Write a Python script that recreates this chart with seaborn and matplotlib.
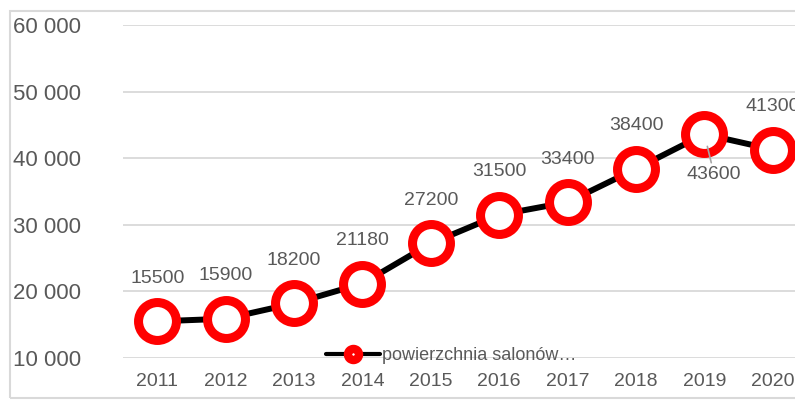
import matplotlib
matplotlib.use('Agg')
import matplotlib.pyplot as plt
import seaborn as sns
import pandas as pd
from matplotlib import font_manager
from matplotlib.lines import Line2D
from matplotlib.patches import Rectangle

years = [2011, 2012, 2013, 2014, 2015, 2016, 2017, 2018, 2019, 2020]
area = [15500, 15900, 18200, 21180, 27200, 31500, 33400, 38400, 43600, 41300]
y_ticks = [10000, 20000, 30000, 40000, 50000, 60000]
series_name = 'powierzchnia salonów…'

# waska czcionka jak w oryginale, jesli jest
names = {f.name for f in font_manager.fontManager.ttflist}
font = 'Liberation Sans Narrow' if 'Liberation Sans Narrow' in names else 'Liberation Sans'

sns.set_theme(style='white')
plt.rcParams['font.family'] = [font, 'DejaVu Sans']
grey_txt = '#595959'
grid_c = '#d9d9d9'

df = pd.DataFrame({'rok': years, 'powierzchnia': area})

fig = plt.figure(figsize=(7.95, 4.0), dpi=100)
ax = fig.add_axes([123 / 795, 1 - 358 / 400, 684 / 795, 333 / 400])

sns.lineplot(data=df, x='rok', y='powierzchnia', ax=ax, color='black', linewidth=4.3,
             marker='o', markersize=27.3, markeredgewidth=6.5,
             markerfacecolor='white', markeredgecolor='#ff0000', zorder=3)

ax.set_xlim(years[0] - 0.5, years[-1] + 0.5)
ax.set_ylim(y_ticks[0], y_ticks[-1])
ax.set_xticks(years)
ax.set_xticklabels([str(y) for y in years])
ax.set_yticks(y_ticks)
ax.set_yticklabels([f'{v:,}'.replace(',', ' ') for v in y_ticks])
ax.grid(axis='y', color=grid_c, linewidth=1.3)
ax.set_axisbelow(True)
for s in ax.spines.values():
    s.set_visible(False)
ax.tick_params(axis='y', length=0, pad=30, labelsize=16, labelcolor=grey_txt)
ax.tick_params(axis='x', length=0, pad=11, labelsize=14, labelcolor=grey_txt)
ax.set_xlabel('')
ax.set_ylabel('')

# etykiety danych
for yr, v in zip(years, area):
    if yr == 2019:
        ax.annotate(str(v), xy=(yr, v), xytext=(7, -29), textcoords='offset points',
                    ha='center', va='center', fontsize=14, color=grey_txt, zorder=5,
                    arrowprops=dict(arrowstyle='-', color='#a6a6a6', lw=1.2,
                                    shrinkA=0, shrinkB=9))
    else:
        ax.annotate(str(v), xy=(yr, v), xytext=(0, 31), textcoords='offset points',
                    ha='center', va='center', fontsize=14, color=grey_txt)

handle = Line2D([], [], color='black', linewidth=3, marker='o', markersize=8,
                markeredgewidth=6, markerfacecolor='white', markeredgecolor='#ff0000')
ax.legend([handle], [series_name], loc='center', bbox_to_anchor=(451 / 795, 1 - 356 / 400),
          bbox_transform=fig.transFigure, frameon=False, fontsize=13, handlelength=3,
          handletextpad=0.1, borderpad=0, labelcolor=grey_txt)

# ramka wykresu
fig.patches.append(Rectangle((10 / 795, 2 / 400), 1.0, 1 - 13 / 400, transform=fig.transFigure,
                             fill=False, edgecolor=grid_c, linewidth=1.5, zorder=0))

fig.savefig('out.png', dpi=100)
